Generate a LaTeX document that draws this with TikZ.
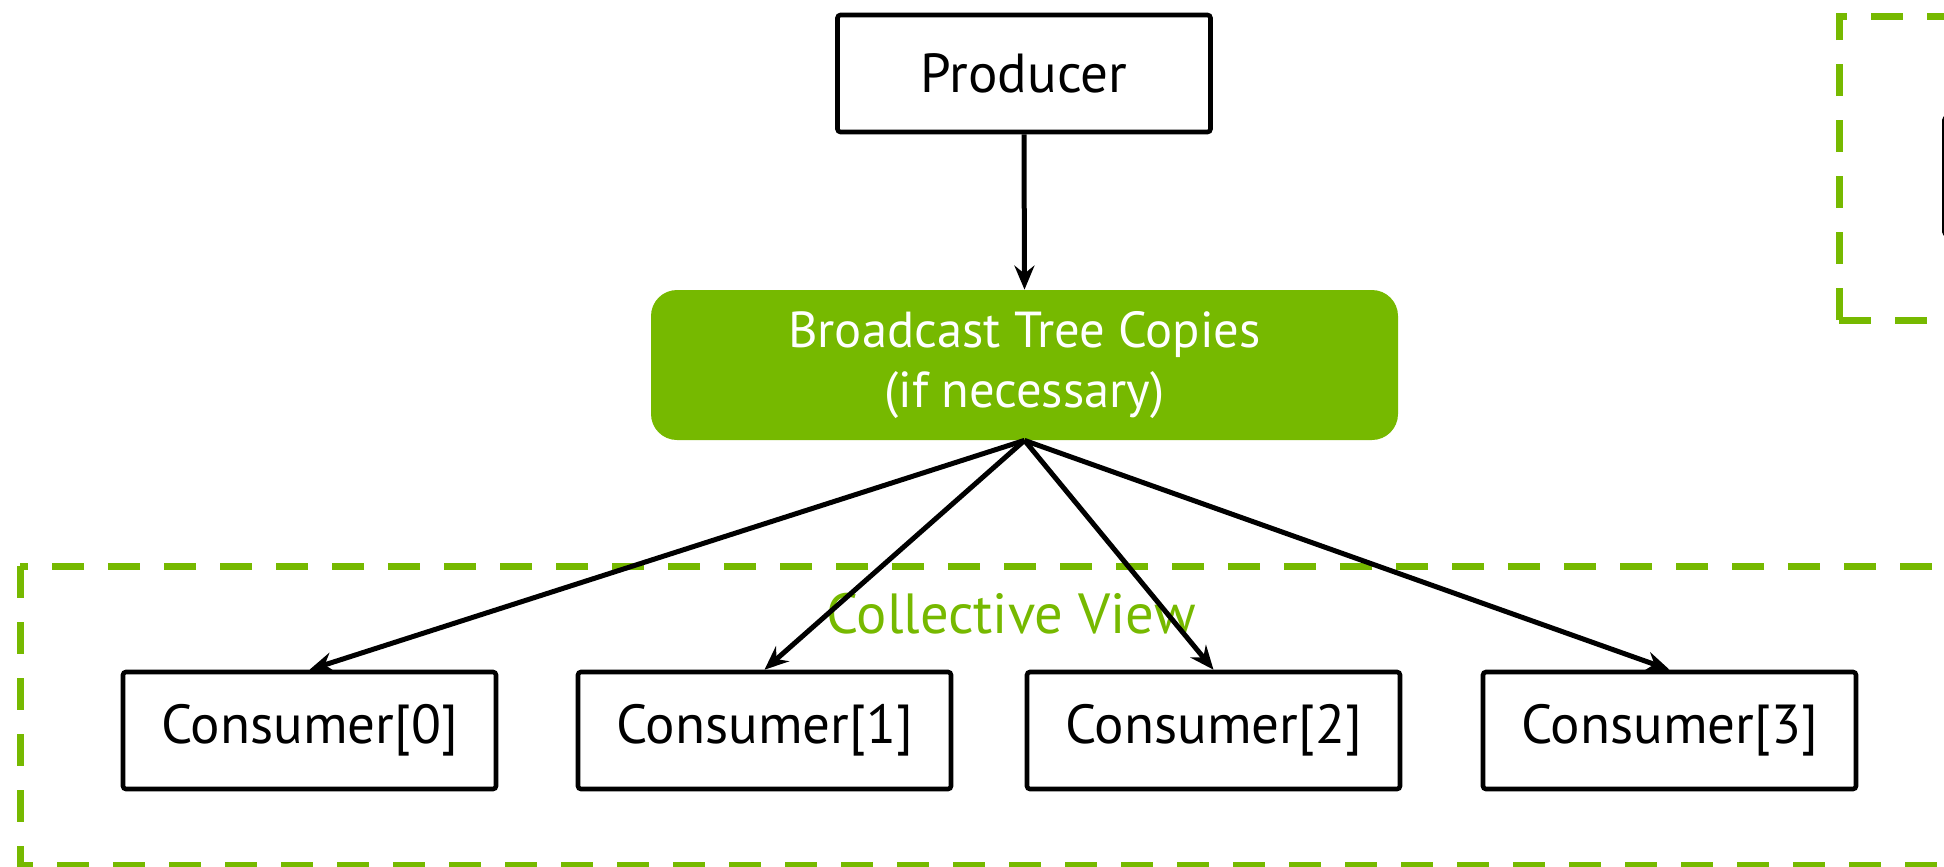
\documentclass[tikz,border=0pt]{standalone}
\usepackage{fontspec}
\setmainfont{PT Sans}
\usetikzlibrary{arrows.meta}
\definecolor{nvgreen}{HTML}{76B900}
\begin{document}
\begin{tikzpicture}[x=0.5pt,y=-0.5pt,
  box/.style={draw=black, line width=2.3pt, fill=white, rounded corners=1.5pt,
    minimum width=186.5pt, minimum height=58.5pt, inner sep=0pt,
    font=\fontsize{27.5}{32}\selectfont},
  bcast/.style={fill=nvgreen, rounded corners=13pt, text=white, align=center,
    minimum width=373.5pt, minimum height=75pt, inner sep=0pt,
    font=\fontsize{25.3}{30}\selectfont},
  link/.style={draw=black, line width=2.5pt,
    -{Stealth[length=12pt, width=10pt, inset=4pt]}},
  dashbox/.style={draw=nvgreen, line width=3.5pt, dash pattern=on 16pt off 12pt},
  grouplabel/.style={text=nvgreen, font=\fontsize{28.3}{32}\selectfont, inner sep=0pt}
]
\useasboundingbox (0,0) rectangle (1944,867);
\clip (0,0) rectangle (1944,867);

% dashed group frames
\draw[dashbox] (20,566) -- (20,865) -- (2100,865);
\draw[dashbox] (2100,566) -- (20,566);
\draw[dashbox] (1839,320) -- (1839,16) -- (2100,16);
\draw[dashbox] (1839,320) -- (2100,320);

% box inside the right-hand frame
\node[box, minimum width=200pt, anchor=west] (side) at (1942,176) {};

% producer and broadcast stage
\node[box] (prod) at (1024,73.5) {Producer};
\node[bcast] (bc) at (1024.5,365) {Broadcast Tree Copies\\(if necessary)};

% consumers
\node[box] (c0) at (309.5,730.5) {Consumer[0]};
\node[box] (c1) at (764.5,730.5) {Consumer[1]};
\node[box] (c2) at (1213.5,730.5) {Consumer[2]};
\node[box] (c3) at (1669.5,730.5) {Consumer[3]};

\node[grouplabel, anchor=base] (cv) at (1011,633) {Collective View};

% connectors
\draw[link] (prod.south) -- (bc.north);
\foreach \c in {c0,c1,c2,c3}
  \draw[link] (bc.south) -- (\c.north);
\end{tikzpicture}
\end{document}
